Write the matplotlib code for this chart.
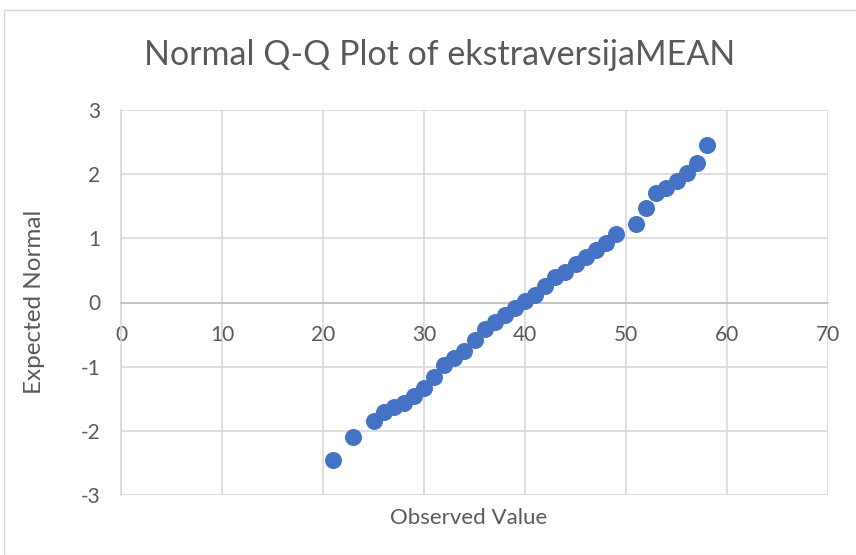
import matplotlib
matplotlib.use("Agg")
import matplotlib.pyplot as plt
from matplotlib.patches import Rectangle

observed = [21, 23, 25, 26, 27, 28, 29, 30, 31, 32, 33, 34, 35, 36, 37, 38, 39, 40,
            41, 42, 43, 44, 45, 46, 47, 48, 49, 51, 52, 53, 54, 55, 56, 57, 58]
expected = [-2.45, -2.09, -1.85, -1.71, -1.63, -1.57, -1.46, -1.33, -1.16, -0.98, -0.87,
            -0.76, -0.58, -0.42, -0.31, -0.19, -0.08, 0.02, 0.11, 0.26, 0.39, 0.47,
            0.60, 0.71, 0.82, 0.93, 1.07, 1.23, 1.47, 1.70, 1.79, 1.89, 2.02, 2.18, 2.45]
x_ticks = [0, 10, 20, 30, 40, 50, 60, 70]
y_ticks = [-3, -2, -1, 0, 1, 2, 3]
title = "Normal Q-Q Plot of ekstraversijaMEAN"
x_label = "Observed Value"
y_label = "Expected Normal"

plt.rcParams['font.family'] = ['Lato', 'DejaVu Sans']
plt.rcParams['axes.unicode_minus'] = False
TXT = '#595959'

fig = plt.figure(figsize=(8.56, 5.55), dpi=100)
fig.patches.append(Rectangle((4/856, 0), 1.0, 1 - 10/555, transform=fig.transFigure,
                             fill=False, edgecolor='#D9D9D9', linewidth=1.0))
ax = fig.add_axes([121/856, 1 - 495/555, (828 - 121)/856, (495 - 110)/555])

ax.scatter(observed, expected, s=150, color='#4472C4', zorder=3, linewidths=0)
ax.set_xlim(0, 70)
ax.set_ylim(-3, 3)
ax.set_xticks(x_ticks)
ax.set_yticks(y_ticks)
ax.grid(True, color='#D9D9D9', linewidth=1.2)
ax.set_axisbelow(True)
for s in ['top', 'right']:
    ax.spines[s].set_visible(False)
ax.spines['bottom'].set_position(('data', 0))
ax.spines['bottom'].set_color('#BFBFBF')
ax.spines['bottom'].set_linewidth(1.2)
ax.spines['left'].set_color('#D9D9D9')
ax.spines['left'].set_linewidth(1.2)
ax.tick_params(axis='both', length=0, labelcolor=TXT, labelsize=15)
ax.tick_params(axis='x', pad=16)
ax.tick_params(axis='y', pad=15)
for lbl in ax.get_yticklabels():
    lbl.set_horizontalalignment('right')

fig.text(440/856, 1 - 55/555, title, ha='center', va='center', fontsize=24.5, color=TXT)
fig.text(469/856, 1 - 518/555, x_label, ha='center', va='center', fontsize=16, color=TXT)
fig.text(35/856, 1 - 302/555, y_label, ha='center', va='center', fontsize=17.5,
         color=TXT, rotation=90)

fig.savefig('out.png', dpi=100)
